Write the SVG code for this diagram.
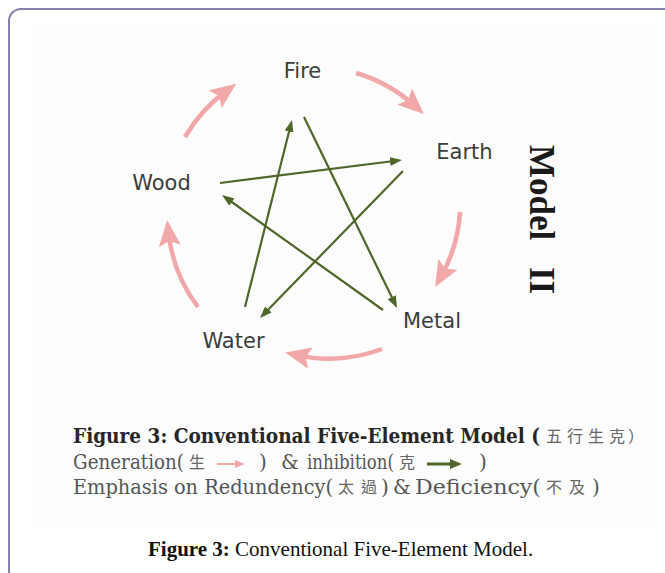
<svg xmlns="http://www.w3.org/2000/svg" width="665" height="573" viewBox="0 0 665 573">
<style>
.lbl{font-family:"DejaVu Sans","Liberation Sans",sans-serif;font-size:21px;fill:#3c3c3c;text-anchor:middle}
.gen{fill:none;stroke:#f2a7a9;stroke-width:4.5}
.inh{fill:none;stroke:#4f6629;stroke-width:2.2}
.cap1{font-family:"DejaVu Serif","Liberation Serif",serif;font-size:20px;font-weight:bold;fill:#262626}
.cap{font-family:"DejaVu Serif","Liberation Serif",serif;font-size:20px;fill:#555}
.cjk{font-family:"Noto Sans CJK TC","Noto Sans CJK SC",sans-serif;font-size:16px;fill:#666}
.model{font-family:"Liberation Serif",serif;font-size:35px;font-weight:bold;fill:#1a1a1a}
.foot{font-family:"Liberation Serif",serif;font-size:21px;fill:#111}
</style>
<defs>
<marker id="pinkHead" viewBox="0 -11 26 22" refX="14" refY="0" markerWidth="26" markerHeight="22" markerUnits="userSpaceOnUse" orient="auto">
<path d="M0,-11 L26,0 L0,11 L5,0 z" fill="#f2a7a9"/>
</marker>
<marker id="greenHead" viewBox="0 -4.5 12 9" refX="6" refY="0" markerWidth="12" markerHeight="9" markerUnits="userSpaceOnUse" orient="auto">
<path d="M0,-4.5 L12,0 L0,4.5 z" fill="#4f6629"/>
</marker>
<marker id="pinkSmall" viewBox="0 -4 10 8" refX="6" refY="0" markerWidth="10" markerHeight="8" markerUnits="userSpaceOnUse" orient="auto">
<path d="M0,-4 L10,0 L0,4 z" fill="#f2a7a9"/>
</marker>
<marker id="greenSmall" viewBox="0 -5 12 10" refX="6" refY="0" markerWidth="12" markerHeight="10" markerUnits="userSpaceOnUse" orient="auto">
<path d="M0,-5 L12,0 L0,5 z" fill="#4f6629"/>
</marker>
</defs>
<rect x="0" y="0" width="665" height="573" fill="#ffffff"/>
<rect x="9" y="9" width="720" height="700" rx="12" fill="none" stroke="#8381ac" stroke-width="2"/>
<rect x="30" y="25" width="627" height="501" fill="#fdfdfd"/>

<g id="connectors">
<path class="gen" d="M185,137 A150,150 0 0 1 226.5,90.9" marker-end="url(#pinkHead)"/>
<path class="gen" d="M356,73 A150,150 0 0 1 415,106" marker-end="url(#pinkHead)"/>
<path class="gen" d="M460,212 A150,150 0 0 1 441,276.6" marker-end="url(#pinkHead)"/>
<path class="gen" d="M382,349 A150,150 0 0 1 296.8,355.1" marker-end="url(#pinkHead)"/>
<path class="gen" d="M198,307 A150,150 0 0 1 168.4,232" marker-end="url(#pinkHead)"/>
<line class="inh" x1="220" y1="183" x2="396" y2="160.75" marker-end="url(#greenHead)"/>
<line class="inh" x1="403" y1="171" x2="264.2" y2="313.7" marker-end="url(#greenHead)"/>
<line class="inh" x1="245" y1="307" x2="290.5" y2="125.8" marker-end="url(#greenHead)"/>
<line class="inh" x1="304" y1="117" x2="394.4" y2="302.6" marker-end="url(#greenHead)"/>
<line class="inh" x1="383" y1="310" x2="226.9" y2="198.5" marker-end="url(#greenHead)"/>
</g>

<g id="node-fire"><text class="lbl" x="302.5" y="78">Fire</text></g>
<g id="node-earth"><text class="lbl" x="464.5" y="159">Earth</text></g>
<g id="node-metal"><text class="lbl" x="432" y="328">Metal</text></g>
<g id="node-water"><text class="lbl" x="233.5" y="348">Water</text></g>
<g id="node-wood"><text class="lbl" x="161.5" y="190">Wood</text></g>

<g id="model-title">
<text class="model" transform="translate(530,145) rotate(90)">Model</text>
<text class="model" transform="translate(530,267) rotate(90)">II</text>
</g>

<g id="legend">
<text class="cap1" x="73" y="443" textLength="467" lengthAdjust="spacingAndGlyphs">Figure 3: Conventional Five-Element Model (</text>
<text class="cjk" x="546" y="442">五</text>
<text class="cjk" x="567" y="442">行</text>
<text class="cjk" x="588" y="442">生</text>
<text class="cjk" x="609" y="442">克</text>
<text class="cjk" x="628" y="442">）</text>

<text class="cap" x="73" y="469" textLength="111" lengthAdjust="spacingAndGlyphs">Generation(</text>
<text class="cjk" x="189" y="468">生</text>
<line x1="217" y1="464" x2="241" y2="464" stroke="#f2a7a9" stroke-width="2" marker-end="url(#pinkSmall)"/>
<text class="cap" x="259" y="469">)</text>
<text class="cap" x="281" y="469">&amp;</text>
<text class="cap" x="307" y="469" textLength="87" lengthAdjust="spacingAndGlyphs">inhibition(</text>
<text class="cjk" x="399" y="468">克</text>
<line x1="427" y1="464" x2="456" y2="464" stroke="#4f6629" stroke-width="3" marker-end="url(#greenSmall)"/>
<text class="cap" x="479" y="469">)</text>

<text class="cap" x="73" y="494" textLength="260" lengthAdjust="spacingAndGlyphs">Emphasis on Redundency(</text>
<text class="cjk" x="338" y="493">太</text>
<text class="cjk" x="361" y="493">過</text>
<text class="cap" x="381" y="494">)</text>
<text class="cap" x="393" y="494">&amp;</text>
<text class="cap" x="415" y="494" textLength="126" lengthAdjust="spacingAndGlyphs">Deficiency(</text>
<text class="cjk" x="546" y="493">不</text>
<text class="cjk" x="569" y="493">及</text>
<text class="cap" x="592" y="494">)</text>
</g>

<g id="footer">
<text class="foot" x="148" y="556"><tspan font-weight="bold">Figure 3:</tspan> Conventional Five-Element Model.</text>
</g>
</svg>
